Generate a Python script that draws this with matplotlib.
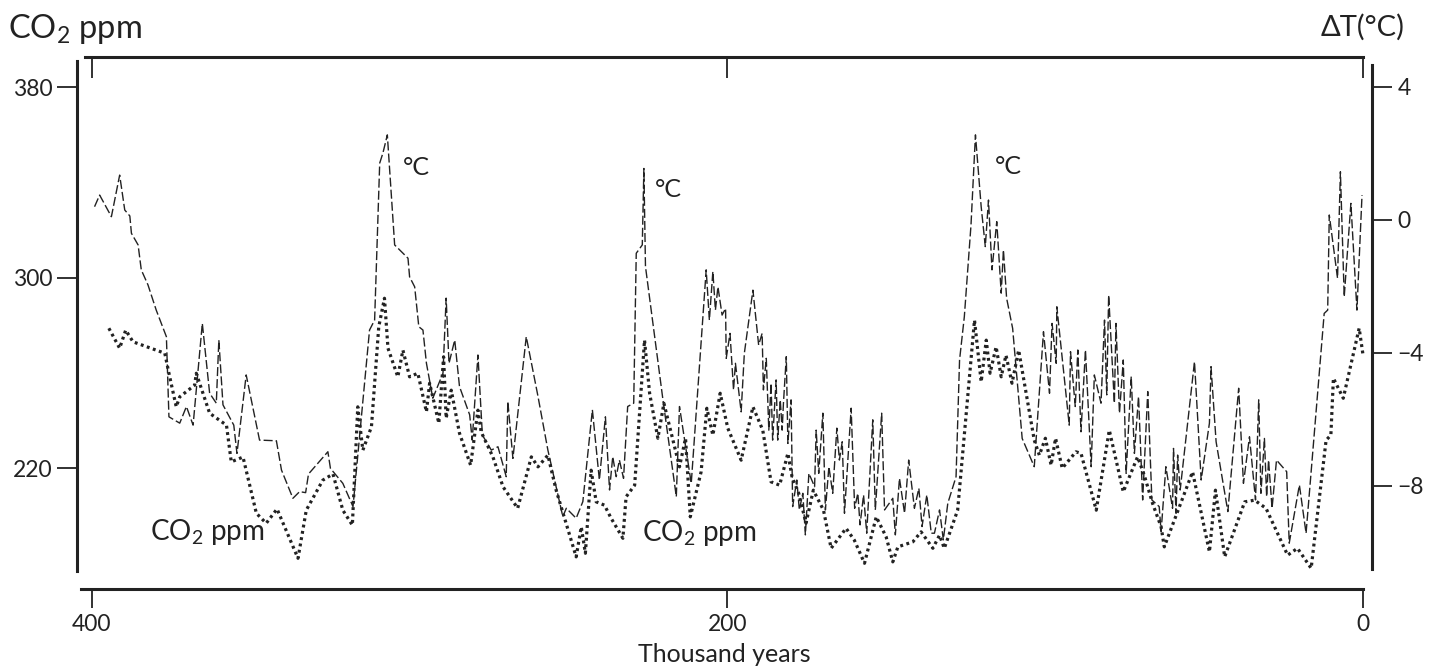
import matplotlib
matplotlib.use("Agg")
import matplotlib.pyplot as plt

plt.rcParams['font.family'] = ['Lato', 'DejaVu Sans']
plt.rcParams['mathtext.fontset'] = 'custom'
plt.rcParams['mathtext.rm'] = 'Lato'
plt.rcParams['mathtext.it'] = 'Lato'

INK = '#222222'

# ---------------- data (thousand years before present) ----------------
temp_years = [399.1, 397.5, 393.8, 391.2, 389.6, 388.0, 387.5, 385.4, 384.4, 382.3,
              379.7, 376.5, 375.7, 372.3, 370.2, 368.1, 365.2, 362.9, 360.8, 360.0,
              358.7, 355.3, 354.3, 351.4, 347.2, 341.9, 340.3, 336.7, 334.6, 332.7,
              331.8, 325.7, 324.9, 321.0, 317.8, 312.6, 311.0, 309.4, 308.4, 307.0,
              304.7, 300.5, 300.0, 298.4, 297.1, 295.8, 294.7, 292.7, 289.5, 288.5,
              287.6, 285.8, 284.3, 281.1, 280.3, 278.5, 277.1, 274.3, 272.2, 269.6,
              269.1, 267.5, 263.3, 259.7, 256.5, 251.8, 250.7, 247.6, 245.5, 242.5,
              240.3, 238.4, 237.1, 236.1, 235.0, 234.0, 232.7, 231.4, 229.5, 228.7,
              226.8, 226.3, 225.8, 220.3, 216.1, 215.1, 211.4, 206.7, 205.7, 204.6,
              203.8, 203.0, 201.7, 200.6, 200.4, 199.2, 198.1, 197.5, 195.7, 194.7,
              192.0, 190.2, 189.1, 188.7, 187.8, 187.0, 186.3, 185.8, 184.7, 184.2,
              183.4, 182.8, 182.4, 181.5, 181.0, 180.0, 179.5, 178.2, 177.4, 176.3,
              175.5, 174.4, 172.6, 172.1, 171.3, 170.0, 169.2, 168.1, 166.9, 165.6,
              164.8, 163.9, 163.2, 161.1, 160.0, 159.0, 158.3, 157.2, 156.2, 154.3,
              153.5, 151.5, 150.6, 148.0, 147.2, 145.9, 144.3, 143.0, 141.2, 139.8,
              138.8, 137.3, 135.9, 134.9, 133.3, 132.1, 130.7, 128.1, 127.0, 125.5,
              123.4, 122.0, 120.2, 118.9, 117.9, 116.8, 115.3, 113.9, 113.2, 112.2,
              110.3, 107.3, 103.5, 100.6, 98.7, 97.9, 96.6, 96.4, 92.5, 92.1,
              90.6, 89.8, 88.8, 87.4, 85.6, 84.6, 82.5, 81.4, 80.7, 80.1,
              78.3, 77.8, 76.7, 75.5, 74.6, 73.0, 72.0, 70.7, 69.4, 67.8,
              66.5, 64.2, 63.6, 62.1, 60.0, 59.7, 58.9, 58.4, 57.6, 53.1,
              51.0, 48.4, 47.9, 46.3, 42.6, 39.2, 37.7, 35.8, 33.9, 32.9,
              32.2, 31.1, 30.4, 29.8, 28.7, 27.3, 24.1, 23.3, 20.1, 18.0,
              12.3, 11.2, 10.7, 8.1, 7.2, 6.0, 3.9, 2.0, 0.4]

temp_values = [0.40, 0.75, 0.10, 1.35, 0.30, 0.12, -0.40, -0.75, -1.50, -1.95,
               -2.71, -3.51, -5.92, -6.11, -5.61, -6.17, -3.11, -5.21, -5.51, -3.61,
               -5.56, -6.17, -7.02, -4.66, -6.62, -6.64, -7.52, -8.37, -8.17, -8.20,
               -7.64, -6.97, -7.47, -7.92, -8.62, -3.31, -3.01, 1.71, 2.01, 2.56,
               -0.75, -1.15, -1.71, -2.01, -3.21, -3.31, -4.31, -5.36, -4.61, -2.35,
               -4.31, -3.61, -5.01, -5.86, -6.62, -4.06, -6.47, -6.92, -6.82, -7.72,
               -5.46, -7.17, -3.51, -5.26, -6.92, -8.92, -8.67, -8.97, -8.47, -5.71,
               -7.82, -5.92, -8.12, -7.12, -7.72, -7.22, -7.77, -5.61, -5.51, -1.00,
               -0.75, 1.55, -1.40, -5.41, -8.32, -5.61, -7.92, -1.50, -3.01, -1.55,
               -2.71, -2.01, -2.86, -2.66, -4.16, -3.41, -5.11, -4.31, -5.77, -4.01,
               -2.11, -3.76, -3.41, -5.11, -4.16, -6.32, -4.91, -6.62, -4.81, -6.62,
               -5.41, -6.32, -5.51, -4.11, -6.72, -5.41, -8.62, -7.82, -8.72, -8.22,
               -9.47, -7.62, -8.02, -6.32, -7.62, -5.81, -8.72, -7.42, -8.22, -6.26,
               -7.22, -6.67, -8.82, -5.66, -8.67, -8.22, -9.17, -8.27, -9.42, -6.01,
               -8.72, -5.81, -8.72, -8.37, -9.47, -7.77, -8.82, -7.22, -8.67, -8.07,
               -9.22, -8.27, -9.42, -9.42, -8.72, -9.62, -8.52, -7.72, -4.21, -2.91,
               -0.15, 2.56, 0.40, -0.80, 0.60, -1.50, -0.05, -2.20, -0.90, -2.35,
               -3.26, -6.57, -7.42, -3.36, -5.21, -3.11, -4.31, -2.61, -6.17, -3.96,
               -5.61, -3.91, -6.37, -3.91, -7.42, -4.66, -5.51, -3.01, -5.26, -2.26,
               -5.51, -3.11, -5.81, -4.21, -7.62, -4.71, -7.02, -5.31, -8.42, -5.16,
               -8.42, -8.62, -9.37, -7.42, -8.67, -6.87, -8.82, -7.07, -8.12, -4.26,
               -7.82, -6.11, -4.41, -6.67, -8.77, -5.06, -7.92, -6.52, -8.42, -5.41,
               -8.22, -6.57, -8.32, -7.22, -8.67, -7.22, -7.57, -9.72, -7.97, -9.42,
               -2.81, -2.71, 0.15, -1.75, 1.45, -2.31, 0.50, -2.71, 0.75]

co2_years = [394.6, 391.2, 389.3, 387.0, 377.0, 375.7, 373.4, 372.3, 367.6, 367.1,
             362.9, 357.6, 356.1, 352.4, 348.2, 345.1, 341.7, 335.1, 332.5, 327.3,
             324.1, 321.0, 318.0, 316.3, 314.7, 312.0, 309.7, 307.9, 306.8, 303.7,
             302.1, 300.0, 297.4, 294.7, 293.7, 290.8, 289.3, 288.5, 286.9, 284.3,
             280.8, 278.5, 277.5, 273.8, 270.6, 266.0, 261.7, 259.6, 256.5, 253.9,
             247.6, 246.0, 244.7, 242.9, 241.3, 238.7, 236.6, 232.9, 231.9, 229.2,
             226.1, 224.5, 221.9, 220.0, 217.7, 215.1, 213.2, 211.7, 208.3, 206.5,
             204.6, 202.3, 199.9, 195.7, 192.0, 188.9, 186.3, 183.6, 181.0, 179.7,
             177.6, 175.3, 173.0, 169.8, 167.4, 162.7, 160.1, 156.9, 153.2, 150.1,
             148.0, 146.4, 141.7, 139.1, 136.5, 135.4, 133.3, 131.8, 127.6, 122.3,
             120.2, 118.6, 117.4, 115.5, 113.9, 112.4, 110.5, 108.4, 103.5, 101.9,
             100.0, 98.2, 96.8, 94.7, 90.4, 88.8, 84.0, 79.9, 75.5, 71.0,
             68.9, 66.3, 63.6, 62.6, 53.7, 48.4, 46.5, 43.6, 37.3, 34.2,
             30.6, 23.8, 20.7, 16.4, 11.7, 10.2, 9.4, 6.3, 1.3, 0.0]

co2_values = [278.7, 270.3, 277.9, 273.0, 268.2, 259.8, 245.7, 249.9, 254.8, 259.8,
              243.0, 238.0, 222.6, 224.6, 201.0, 196.8, 202.8, 182.1, 202.3, 214.9,
              217.5, 202.3, 196.0, 245.7, 227.5, 237.3, 279.3, 291.3, 270.3, 258.3,
              269.5, 258.3, 259.8, 243.6, 255.6, 238.8, 266.7, 240.9, 252.7, 234.6,
              221.2, 244.3, 235.2, 224.7, 212.1, 203.1, 224.7, 220.5, 225.4, 210.7,
              182.7, 195.3, 184.2, 219.1, 205.8, 204.4, 198.9, 190.5, 207.9, 212.8,
              273.7, 251.4, 232.5, 247.2, 234.6, 220.5, 232.5, 199.5, 218.4, 245.1,
              233.8, 251.4, 236.7, 223.3, 245.7, 235.9, 214.2, 212.8, 226.2, 216.3,
              209.4, 196.8, 210.7, 202.3, 186.3, 194.7, 189.7, 180.0, 199.5, 191.1,
              180.6, 186.9, 189.0, 193.2, 188.4, 186.3, 191.8, 186.3, 202.3, 282.1,
              256.2, 273.7, 259.8, 270.9, 258.3, 267.4, 255.6, 269.5, 231.7, 225.4,
              232.5, 221.2, 232.5, 219.9, 226.8, 226.2, 202.3, 235.9, 210.0, 224.7,
              217.0, 205.2, 195.3, 186.9, 218.4, 184.8, 210.7, 182.7, 205.8, 206.5,
              203.1, 183.4, 186.3, 177.9, 231.7, 233.8, 257.7, 249.3, 278.7, 266.7]

x_ticks = [400, 200, 0]
x_tick_labels = ['400', '200', '0']
co2_ticks = [220, 300, 380]
temp_ticks = [-8, -4, 0, 4]
temp_tick_labels = ['\u22128', '\u22124', '0', '4']

# ---------------- figure ----------------
W, H = 1440, 670
fig = plt.figure(figsize=(W / 100, H / 100), dpi=100)
fig.patch.set_facecolor('white')

L, R, T, B = 77, 1372, 57, 589
ax = fig.add_axes([L / W, (H - B) / H, (R - L) / W, (B - T) / H])
ax.set_facecolor('none')
ax.set_xlim(404.62, -2.74)
ax.set_ylim(169.2, 392.6)

ax2 = ax.twinx()
ax2.set_ylim(-11.098, 4.902)

# series
ax.plot(co2_years, co2_values, color=INK, lw=2.3, ls=(0, (0.9, 1.1)),
        dash_capstyle='butt')
ax2.plot(temp_years, temp_values, color=INK, lw=1.0, ls=(0, (6.5, 2.2)))

# spines
SW = 2.2
for s in ['left', 'bottom', 'top']:
    ax.spines[s].set_linewidth(SW)
    ax.spines[s].set_color(INK)
ax.spines['right'].set_visible(False)
ax.spines['left'].set_bounds(176.8, 390.9)
ax.spines['bottom'].set_bounds(403.4, 0)
ax.spines['top'].set_bounds(402.1, 0)
for s in ['left', 'bottom', 'top']:
    ax2.spines[s].set_visible(False)
ax2.spines['right'].set_linewidth(SW)
ax2.spines['right'].set_color(INK)
ax2.spines['right'].set_bounds(-10.50, 4.66)

# ticks
ax.set_xticks(x_ticks)
ax.set_xticklabels(x_tick_labels)
ax.set_yticks(co2_ticks)
ax.tick_params(axis='x', direction='out', length=13.7, width=1.3, color=INK,
               pad=4, labelsize=16.5, labelcolor=INK)
ax.tick_params(axis='y', direction='out', length=14.4, width=1.3, color=INK,
               pad=3, labelsize=16.5, labelcolor=INK)
ax2.set_yticks(temp_ticks)
ax2.set_yticklabels(temp_tick_labels)
ax2.tick_params(axis='y', direction='out', length=14.4, width=1.3, color=INK,
                pad=4, labelsize=16.5, labelcolor=INK)

secx = ax.secondary_xaxis('top')
secx.set_xticks(x_ticks)
secx.tick_params(direction='in', length=15, width=1.3, color=INK, labeltop=False)
for s in secx.spines.values():
    s.set_visible(False)

ax.set_xlabel('Thousand years', fontsize=18, color=INK, labelpad=6)

# titles
fig.text(8 / W, 1 - 37.7 / H, 'CO$_2$ ppm', ha='left', va='baseline',
         fontsize=23.5, color=INK)
fig.text(1405 / W, 1 - 36 / H, '\u0394T(\u00b0C)', ha='right', va='baseline',
         fontsize=21, color=INK)

# in-plot labels
for yr, tv in [(302.2, 1.35), (222.9, 0.69), (116.0, 1.38)]:
    ax2.text(yr, tv, '\u00b0C', ha='left', va='baseline', fontsize=18, color=INK)
for yr, cv in [(381.8, 189.7), (227.0, 189.2)]:
    ax.text(yr, cv, 'CO$_2$ ppm', ha='left', va='baseline', fontsize=20, color=INK)

fig.savefig('out.png', dpi=100)
